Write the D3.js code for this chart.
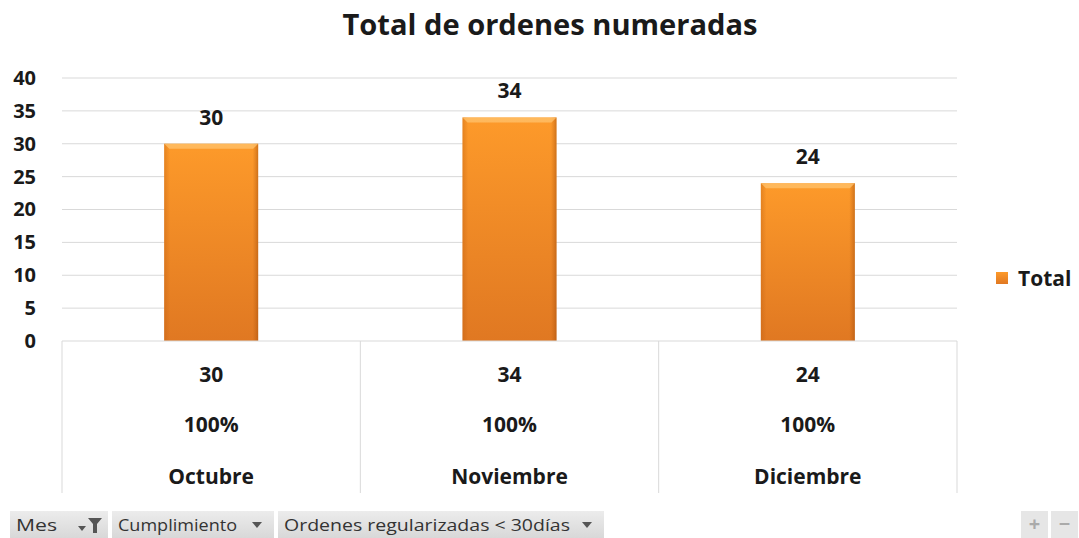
<!DOCTYPE html>
<html>
<head>
<meta charset="utf-8">
<script src="https://cdn.jsdelivr.net/npm/d3@7"></script>
<style>
  body { margin: 0; background: #fff; }
  svg text { font-family: "Open Sans", "Liberation Sans", sans-serif; }
</style>
</head>
<body>
<script>
// Datos del gráfico
const meses = ["Octubre", "Noviembre", "Diciembre"];
const totales = [30, 34, 24];
const cumplimiento = ["100%", "100%", "100%"];
const yTicks = [0, 5, 10, 15, 20, 25, 30, 35, 40];
const filtros = ["Mes", "Cumplimiento", "Ordenes regularizadas < 30días"];

const W = 1079, H = 538;
const plot = {left: 62, right: 957, top: 78, bottom: 341};

const svg = d3.select("body").append("svg")
    .attr("width", W)
    .attr("height", H);

const defs = svg.append("defs");
const grad = defs.append("linearGradient").attr("id", "barGrad")
    .attr("x1", 0).attr("y1", 0).attr("x2", 0).attr("y2", 1);
grad.append("stop").attr("offset", "0%").attr("stop-color", "#fd9a2a");
grad.append("stop").attr("offset", "100%").attr("stop-color", "#e07822");

const sideGrad = defs.append("linearGradient").attr("id", "sideGrad")
    .attr("x1", 0).attr("y1", 0).attr("x2", 1).attr("y2", 0);
sideGrad.append("stop").attr("offset", "0%").attr("stop-color", "#b85a10").attr("stop-opacity", 0.35);
sideGrad.append("stop").attr("offset", "6%").attr("stop-color", "#b85a10").attr("stop-opacity", 0);
sideGrad.append("stop").attr("offset", "94%").attr("stop-color", "#b85a10").attr("stop-opacity", 0);
sideGrad.append("stop").attr("offset", "100%").attr("stop-color", "#a04c0c").attr("stop-opacity", 0.5);

const btnGrad = defs.append("linearGradient").attr("id", "btnGrad")
    .attr("x1", 0).attr("y1", 0).attr("x2", 0).attr("y2", 1);
btnGrad.append("stop").attr("offset", "0%").attr("stop-color", "#ececec");
btnGrad.append("stop").attr("offset", "100%").attr("stop-color", "#d8d8d8");

// Titre
svg.append("text")
    .attr("x", 550).attr("y", 35)
    .attr("text-anchor", "middle")
    .attr("textLength", 415).attr("lengthAdjust", "spacingAndGlyphs")
    .style("font-size", "28px").style("font-weight", "bold").style("fill", "#1a1a1a")
    .text("Total de ordenes numeradas");

// Échelles
const x = d3.scaleBand().domain(meses).range([plot.left, plot.right]).paddingInner(0).paddingOuter(0);
const y = d3.scaleLinear().domain([0, 40]).range([plot.bottom, plot.top]);

// Grille
svg.append("g").selectAll("line").data(yTicks.filter(d => d > 0)).join("line")
    .attr("x1", plot.left).attr("x2", plot.right)
    .attr("y1", d => y(d)).attr("y2", d => y(d))
    .attr("stroke", "#d9d9d9").attr("stroke-width", 1);

// Axe Y
const yAxis = svg.append("g")
    .attr("transform", `translate(${plot.left - 26},0)`)
    .call(d3.axisLeft(y).tickValues(yTicks).tickSize(0).tickPadding(0));
yAxis.select(".domain").remove();
yAxis.selectAll("text")
    .style("font-size", "20px").style("font-weight", "bold").style("fill", "#1a1a1a")
    .style("font-family", "'Open Sans', sans-serif");

// Barres
const bw = x.bandwidth() * 0.315;
const bars = svg.append("g").selectAll("g").data(meses).join("g");
bars.append("rect")
    .attr("x", d => x(d) + (x.bandwidth() - bw) / 2)
    .attr("y", (d, i) => y(totales[i]))
    .attr("width", bw)
    .attr("height", (d, i) => y(0) - y(totales[i]))
    .attr("fill", "url(#barGrad)");
bars.append("rect")
    .attr("x", d => x(d) + (x.bandwidth() - bw) / 2)
    .attr("y", (d, i) => y(totales[i]))
    .attr("width", bw)
    .attr("height", (d, i) => y(0) - y(totales[i]))
    .attr("fill", "url(#sideGrad)");
// biseau supérieur
bars.append("path")
    .attr("d", (d, i) => {
        const x0 = x(d) + (x.bandwidth() - bw) / 2, y0 = y(totales[i]);
        return `M${x0},${y0} L${x0 + bw},${y0} L${x0 + bw - 5},${y0 + 5} L${x0 + 5},${y0 + 5} Z`;
    })
    .attr("fill", "#ffc36e").attr("opacity", 0.75);

// Étiquettes de valeurs
bars.append("text")
    .attr("x", d => x(d) + x.bandwidth() / 2)
    .attr("y", (d, i) => y(totales[i]) - 19)
    .attr("text-anchor", "middle")
    .style("font-size", "21px").style("font-weight", "bold").style("fill", "#1a1a1a")
    .text((d, i) => totales[i]);

// Tableau sous l'axe
const tableBottom = 493;
svg.append("line")
    .attr("x1", plot.left).attr("x2", plot.right)
    .attr("y1", plot.bottom).attr("y2", plot.bottom)
    .attr("stroke", "#d9d9d9");
svg.append("g").selectAll("line").data(x.domain().map(d => x(d)).concat([plot.right])).join("line")
    .attr("x1", d => d).attr("x2", d => d)
    .attr("y1", plot.bottom).attr("y2", tableBottom)
    .attr("stroke", "#d9d9d9");

const rows = [totales.map(String), cumplimiento, meses];
const rowY = [382, 432, 484];
rows.forEach((row, r) => {
    svg.append("g").selectAll("text").data(row).join("text")
        .attr("x", (d, i) => x(meses[i]) + x.bandwidth() / 2)
        .attr("y", rowY[r])
        .attr("text-anchor", "middle")
        .style("font-size", "21px").style("font-weight", "bold").style("fill", "#1a1a1a")
        .text(d => d);
});

// Légende
svg.append("rect")
    .attr("x", 996).attr("y", 272).attr("width", 12).attr("height", 12)
    .attr("fill", "url(#barGrad)");
svg.append("text")
    .attr("x", 1018).attr("y", 286)
    .style("font-size", "21px").style("font-weight", "bold").style("fill", "#1a1a1a")
    .text("Total");

// Boutons de filtre
const btnX = [10, 112, 278];
const btnW = [98, 162, 326];
const txtW = [41, 119, 286];
const btns = svg.append("g").selectAll("g").data(filtros).join("g")
    .attr("transform", (d, i) => `translate(${btnX[i]},511)`);
btns.append("rect")
    .attr("width", (d, i) => btnW[i]).attr("height", 27)
    .attr("fill", "url(#btnGrad)");
btns.append("text")
    .attr("x", 6).attr("y", 20)
    .attr("textLength", (d, i) => txtW[i]).attr("lengthAdjust", "spacingAndGlyphs")
    .style("font-size", "17px").style("fill", "#333")
    .text(d => d);
// flèches
btns.append("path")
    .attr("d", (d, i) => i === 0
        ? `M${btnW[i] - 30},15 l8,0 l-4,5 z M${btnW[i] - 20},7 l14,0 l-5,6 l0,9 l-4,0 l0,-9 z`
        : `M${btnW[i] - 22},11 l10,0 l-5,6 z`)
    .attr("fill", "#555");

// Boutons + / -
const pm = svg.append("g");
[{x: 1021, s: "+"}, {x: 1051, s: "−"}].forEach(b => {
    pm.append("rect").attr("x", b.x).attr("y", 511).attr("width", 27).attr("height", 27).attr("fill", "#e6e6e6");
    pm.append("text").attr("x", b.x + 13.5).attr("y", 531).attr("text-anchor", "middle")
        .style("font-size", "20px").style("font-weight", "bold").style("fill", "#aaa").text(b.s);
});
</script>
</body>
</html>
